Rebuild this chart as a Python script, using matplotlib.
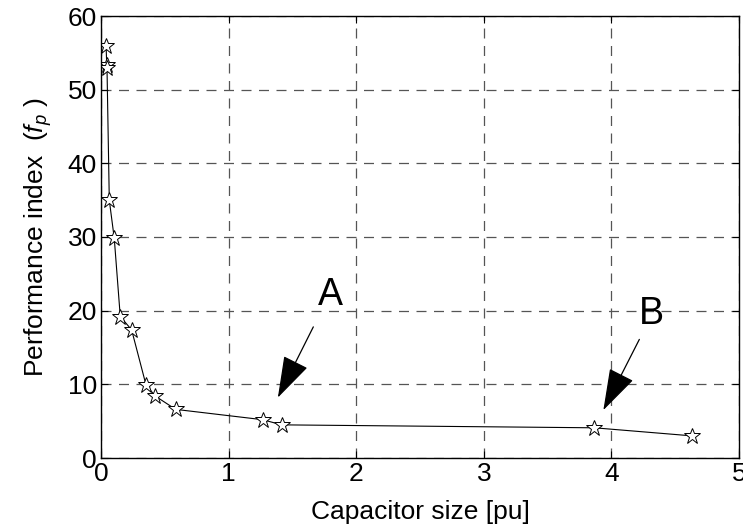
import numpy as np
import matplotlib
matplotlib.use("Agg")
import matplotlib.pyplot as plt

# capacitor size [pu] vs performance index f_p
cap_size = [0.04, 0.045, 0.047, 0.065, 0.104, 0.151, 0.24, 0.353, 0.426, 0.585,
            1.267, 1.416, 3.866, 4.634]
perf_index = [55.9, 53.3, 53.0, 35.0, 29.8, 19.2, 17.4, 9.9, 8.4, 6.6,
              5.2, 4.5, 4.1, 3.0]

x_ticks = [0, 1, 2, 3, 4, 5]
y_ticks = [0, 10, 20, 30, 40, 50, 60]

plt.rcParams['font.family'] = ['Liberation Sans', 'DejaVu Sans']
plt.rcParams['mathtext.fontset'] = 'custom'
plt.rcParams['mathtext.rm'] = 'Liberation Sans'
plt.rcParams['mathtext.it'] = 'Liberation Sans:italic'

fig = plt.figure(figsize=(7.43, 5.29), dpi=100)
ax = fig.add_axes([101 / 743, 1 - 458 / 529, 638 / 743, 442 / 529])

ax.plot(cap_size, perf_index, color='black', linewidth=0.8,
        marker='*', markersize=12, markerfacecolor='white',
        markeredgecolor='black', markeredgewidth=0.7)

ax.set_xlim(0, 5)
ax.set_ylim(0, 60)
ax.set_xticks(x_ticks)
ax.set_yticks(y_ticks)
ax.tick_params(direction='in', top=True, right=True, labelsize=19, length=5, pad=3)
ax.grid(True, linestyle=(0, (8, 6)), color='#555555', linewidth=0.9)
for s in ax.spines.values():
    s.set_linewidth(1.0)

ax.set_xlabel('Capacitor size [pu]', fontsize=19, labelpad=10)
ax.set_ylabel(r'Performance index  ($\mathit{f}_{p}$ )', fontsize=19, labelpad=10)

arrow_kw = dict(arrowstyle='-|>,head_length=1.4,head_width=0.45',
                mutation_scale=19, color='black', linewidth=0.9,
                shrinkA=0, shrinkB=0)
ax.annotate('', xy=(1.386, 8.2), xytext=(1.664, 17.8), arrowprops=arrow_kw)
ax.annotate('', xy=(3.937, 6.5), xytext=(4.219, 16.1), arrowprops=arrow_kw)
ax.text(1.80, 22.1, 'A', fontsize=27, ha='center', va='center')
ax.text(4.31, 19.6, 'B', fontsize=27, ha='center', va='center')

fig.savefig('out.png', dpi=100)
